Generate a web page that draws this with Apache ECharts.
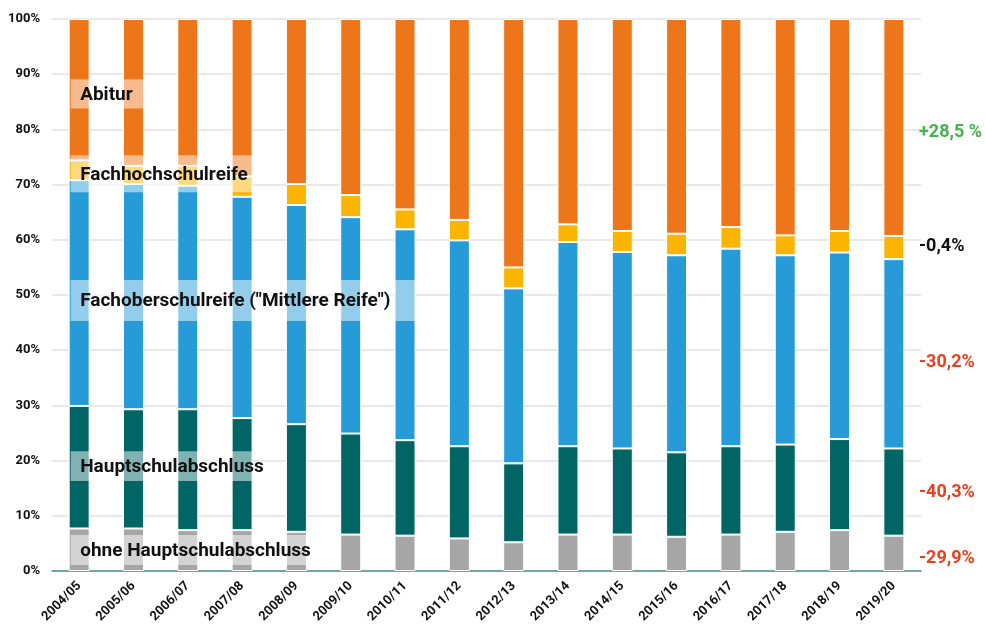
<!DOCTYPE html>
<html>
<head>
<meta charset="utf-8">
<script src="https://cdn.jsdelivr.net/npm/echarts@6/dist/echarts.min.js"></script>
<style>
  html, body { margin: 0; padding: 0; background: #fff; }
  #main { width: 985px; height: 628px; }
</style>
</head>
<body>
<div id="main"></div>
<script>
var categories = ['2004/05', '2005/06', '2006/07', '2007/08', '2008/09', '2009/10', '2010/11', '2011/12',
    '2012/13', '2013/14', '2014/15', '2015/16', '2016/17', '2017/18', '2018/19', '2019/20'];

// Anteile in %
var ohneHauptschul = [7.7, 7.7, 7.4, 7.4, 7.1, 6.6, 6.4, 5.9, 5.2, 6.6, 6.6, 6.2, 6.6, 7.1, 7.4, 6.4];
var hauptschul = [22.2, 21.6, 21.9, 20.3, 19.5, 18.3, 17.3, 16.7, 14.3, 16.0, 15.6, 15.3, 16.0, 15.8, 16.5, 15.8];
var fachoberschul = [40.9, 40.8, 40.5, 40.1, 39.7, 39.2, 38.2, 37.3, 31.7, 37.0, 35.6, 35.7, 35.8, 34.3, 33.8, 34.3];
var fachhochschul = [3.6, 3.3, 3.6, 3.7, 3.8, 4.0, 3.6, 3.7, 3.8, 3.2, 3.8, 3.9, 3.9, 3.6, 3.9, 4.2];
var abitur = [25.6, 26.6, 26.6, 28.5, 29.9, 31.9, 34.5, 36.4, 45.0, 37.2, 38.4, 38.9, 37.7, 39.2, 38.4, 39.3];

// Beschriftungen im Diagramm
var labelNames = ['Abitur', 'Fachhochschulreife', 'Fachoberschulreife ("Mittlere Reife")', 'Hauptschulabschluss', 'ohne Hauptschulabschluss'];
var labelLow = [83.8, 68.6, 45.3, 16.3, 1.1];
var labelHigh = [89.1, 75.3, 52.7, 21.7, 6.5];
var labelLastBar = [1, 3, 6, 3, 4];

// Veraenderung rechts
var changeTexts = ['+28,5 %', '-0,4%', '-30,2%', '-40,3%', '-29,9%'];
var changeAt = [79.5, 58.7, 37.7, 14.2, 2.3];
var changeColors = ['#46b04a', '#111111', '#e8411e', '#e8411e', '#e8411e'];

var FONT = 'Roboto, "Noto Sans", sans-serif';
var BAR_W = 21;
var myChart;

window.onload = function () {
    initChart();
    addLabels();
};

function barSeries(name, data, color) {
    return {
        name: name,
        type: 'bar',
        stack: 'total',
        barWidth: BAR_W,
        data: data,
        itemStyle: { color: color, borderColor: '#fff', borderWidth: 1 },
        emphasis: { disabled: true }
    };
}

function initChart() {
    myChart = echarts.init(document.getElementById('main'));
    var options = {
        animation: false,
        textStyle: { fontFamily: FONT },
        grid: { left: 52, right: 64, top: 19, bottom: 57 },
        xAxis: {
            type: 'category',
            data: categories,
            axisTick: { show: false },
            axisLine: { lineStyle: { color: '#4f8f8f', width: 1.5 } },
            axisLabel: {
                rotate: 45,
                margin: 13,
                color: '#111',
                fontWeight: 'bold',
                fontSize: 13,
                fontFamily: FONT
            }
        },
        yAxis: {
            type: 'value',
            min: 0,
            max: 100,
            interval: 10,
            axisLine: { show: false },
            axisTick: { show: false },
            splitLine: { lineStyle: { color: '#e2e2e2', width: 1.5 } },
            axisLabel: {
                formatter: '{value}%',
                margin: 12,
                color: '#111',
                fontWeight: 'bold',
                fontSize: 13,
                fontFamily: FONT
            }
        },
        series: [
            barSeries('ohne Hauptschulabschluss', ohneHauptschul, '#a6a6a6'),
            barSeries('Hauptschulabschluss', hauptschul, '#016565'),
            barSeries('Fachoberschulreife', fachoberschul, '#269bd8'),
            barSeries('Fachhochschulreife', fachhochschul, '#fbb400'),
            barSeries('Abitur', abitur, '#ee761a')
        ]
    };
    myChart.setOption(options);
}

function addLabels() {
    var elements = [];
    for (var i = 0; i < labelNames.length; i++) {
        var pLeft = myChart.convertToPixel({ xAxisIndex: 0, yAxisIndex: 0 }, [0, labelHigh[i]]);
        var pRight = myChart.convertToPixel({ xAxisIndex: 0, yAxisIndex: 0 }, [labelLastBar[i], labelLow[i]]);
        var x0 = pLeft[0] - BAR_W / 2 + 2;
        var x1 = pRight[0] + BAR_W / 2;
        elements.push({
            type: 'rect',
            z: 100,
            shape: { x: x0, y: pLeft[1], width: x1 - x0, height: pRight[1] - pLeft[1] },
            style: { fill: 'rgba(255,255,255,0.5)' }
        });
        elements.push({
            type: 'text',
            z: 101,
            x: pLeft[0] + 1,
            y: (pLeft[1] + pRight[1]) / 2 + 1,
            style: {
                text: labelNames[i],
                fill: '#111',
                font: 'bold 19px ' + FONT,
                verticalAlign: 'middle'
            }
        });
    }
    for (var j = 0; j < changeTexts.length; j++) {
        var p = myChart.convertToPixel({ xAxisIndex: 0, yAxisIndex: 0 }, [categories.length - 1, changeAt[j]]);
        elements.push({
            type: 'text',
            z: 101,
            x: 919,
            y: p[1],
            style: {
                text: changeTexts[j],
                fill: changeColors[j],
                font: 'bold 18px ' + FONT,
                verticalAlign: 'middle'
            }
        });
    }
    myChart.setOption({ graphic: { elements: elements } });
}
</script>
</body>
</html>
